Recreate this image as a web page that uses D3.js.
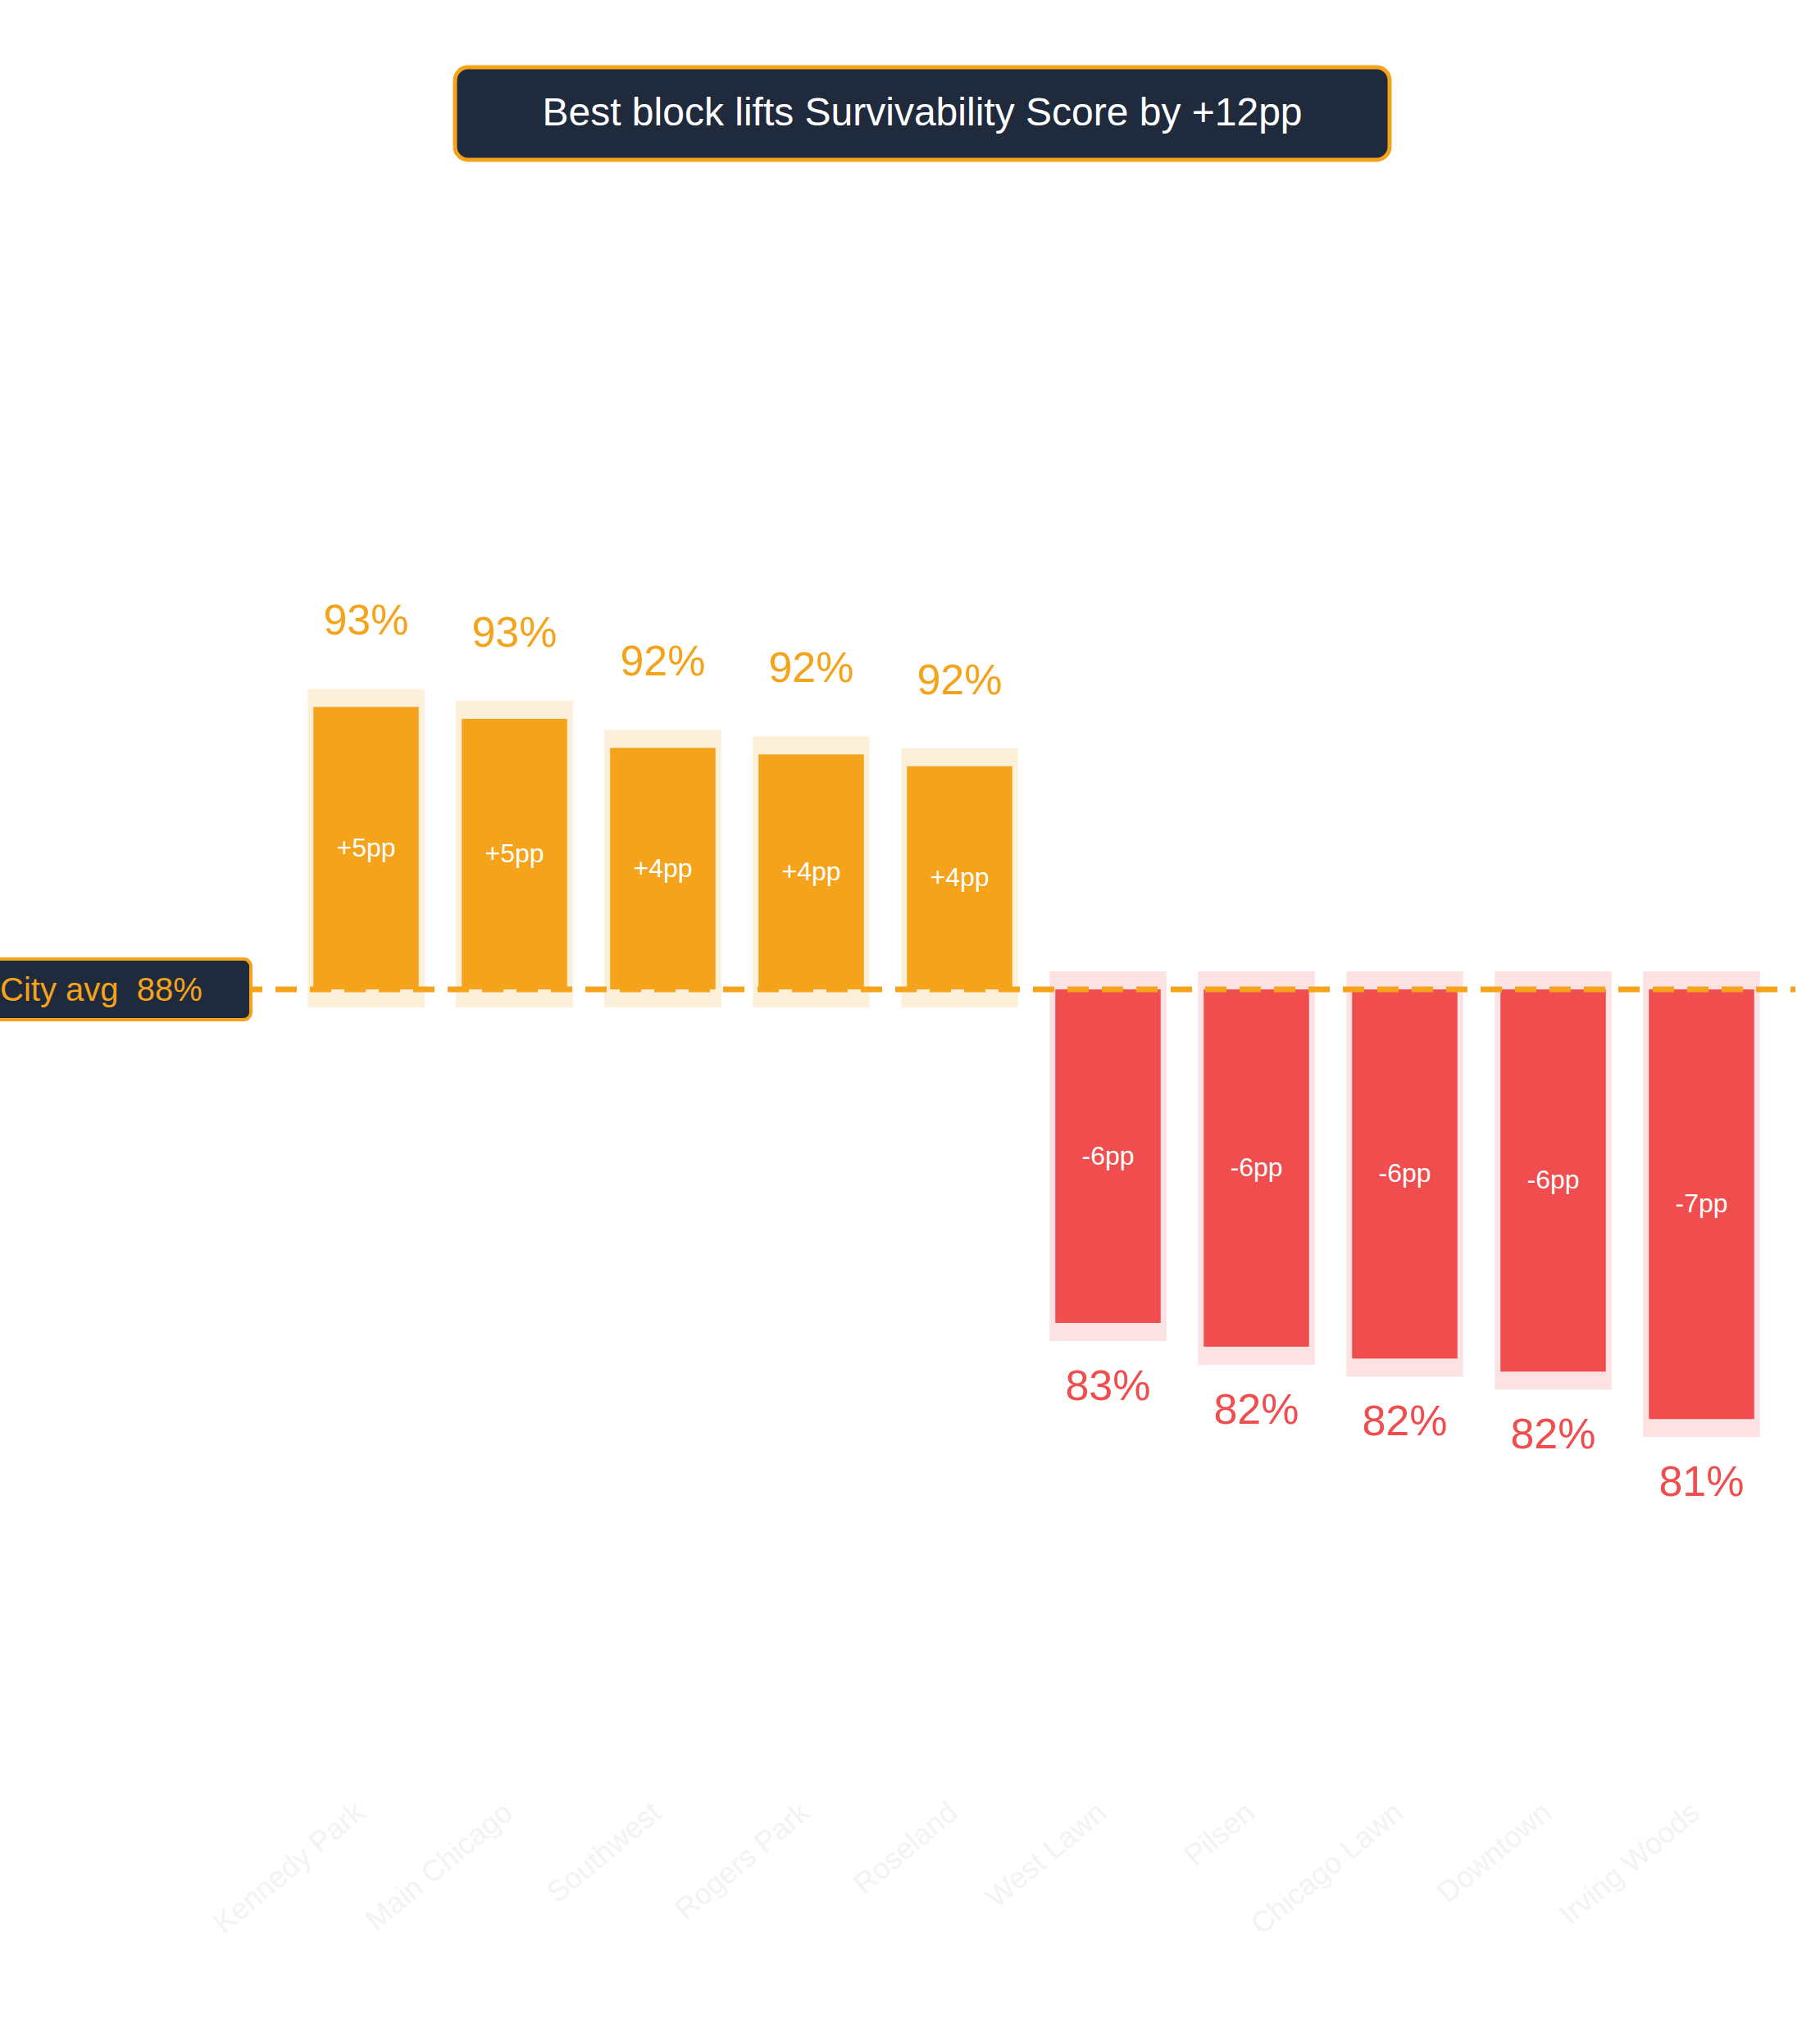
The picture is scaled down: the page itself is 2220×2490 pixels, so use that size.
<!DOCTYPE html><html><head><meta charset="utf-8">
<script src="https://cdn.jsdelivr.net/npm/d3@7"></script>
<style>body{margin:0;background:#fff}svg{display:block;font-family:"Liberation Sans",Arial,sans-serif}</style></head><body>
<svg id="c" width="2220" height="2490"></svg>
<script>
const categories=["Kennedy Park","Main Chicago","Southwest","Rogers Park","Roseland","West Lawn","Pilsen","Chicago Lawn","Downtown","Irving Woods"];
const scores=[93.06,92.86,92.37,92.26,92.06,82.68,82.28,82.08,81.86,81.06];
const cityAvg=88.3;
const title="Best block lifts Survivability Score by +12pp";
const svg=d3.select("#c");
const x=d3.scaleBand().domain(categories).range([356,2166]).paddingInner(0.29).paddingOuter(0.145);
const y=d3.scaleLinear().domain([80,95]).range([1808,722]);
const ORG="#F4A31A",RED="#F04E4E",ORGL="#FDF0DA",REDL="#FDE2E4";
const y0=y(cityAvg),pad=22,bw=x.bandwidth(),ext=7;
categories.forEach((c,i)=>{
  const v=scores[i],up=v>=cityAvg,cx=x(c)+bw/2,yv=y(v);
  const top=up?yv:y0,bot=up?y0:yv;
  svg.append("rect").attr("x",x(c)-ext).attr("width",bw+2*ext).attr("y",top-pad).attr("height",bot-top+2*pad).attr("fill",up?ORGL:REDL);
  svg.append("rect").attr("x",x(c)).attr("width",bw).attr("y",top).attr("height",bot-top).attr("fill",up?ORG:RED);
  const d=Math.round(v-cityAvg);
  svg.append("text").attr("x",cx).attr("y",(top+bot)/2+10).attr("text-anchor","middle").attr("fill","#fff").attr("font-size",32).text((d>0?"+":"")+d+"pp");
  svg.append("text").attr("x",cx).attr("y",up?top-pad-66:bot+pad+72).attr("text-anchor","middle").attr("fill",up?ORG:RED).attr("font-size",52).text(Math.round(v)+"%");
  svg.append("text").attr("transform",`translate(${cx},2215) rotate(-40)`).attr("text-anchor","end").attr("fill","#f1f3f5").attr("font-size",36).text(c);
});
svg.append("line").attr("x1",0).attr("x2",2190).attr("y1",y0).attr("y2",y0).attr("stroke",ORG).attr("stroke-width",7).attr("stroke-dasharray","26 16");
svg.append("rect").attr("x",-20).attr("y",y0-37).attr("width",326).attr("height",74).attr("rx",9).attr("fill","#1f2a3c").attr("stroke",ORG).attr("stroke-width",4);
svg.append("text").attr("x",0).attr("y",y0+14).attr("fill",ORG).attr("font-size",40).attr("xml:space","preserve").text("City avg  "+Math.round(cityAvg)+"%");
svg.append("rect").attr("x",555).attr("y",82).attr("width",1140).attr("height",113).attr("rx",16).attr("fill","#1f2a3c").attr("stroke",ORG).attr("stroke-width",5);
svg.append("text").attr("x",1125).attr("y",153).attr("text-anchor","middle").attr("fill","#fff").attr("font-size",48).text(title);
</script></body></html>
